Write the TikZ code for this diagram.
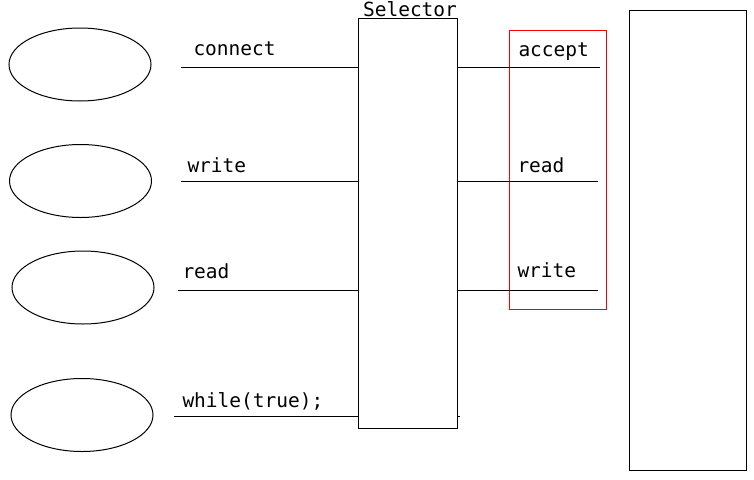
\documentclass[tikz,border=0pt]{standalone}
\usepackage{fontspec}
\setmonofont{DejaVu Sans Mono}
\usetikzlibrary{shapes.geometric}
\begin{document}
\begin{tikzpicture}[x=1pt,y=-1pt,line width=1pt,
  lbl/.style={font=\ttfamily\fontsize{19.5}{23}\selectfont,inner sep=0pt,anchor=base west},
  oval/.style={draw,ellipse,minimum width=142pt,minimum height=73pt,inner sep=0pt},
  boxed/.style={draw,rectangle,inner sep=0pt}]
\useasboundingbox (0,0) rectangle (754,479);
% line end coordinates
\coordinate (l1) at (181,67);
\coordinate (l2) at (181,181);
\coordinate (l3) at (178,290);
\coordinate (l4) at (174,416);
\coordinate (r4) at (460,416);
\coordinate (r1) at (600,67);
\coordinate (r2) at (598,181);
\coordinate (r3) at (598,290);
\draw (l4) -- (r4);
% ellipses
\node[oval] (e1) at (80,64.5) {};
\node[oval] (e2) at (80.5,181) {};
\node[oval] (e3) at (83,287.5) {};
\node[oval] (e4) at (82,415) {};
% selector box
\node[boxed,fill=white,minimum width=99pt,minimum height=410pt] (sel) at (407.5,223) {};
\node[lbl,anchor=base] (selt) at (410,16.3) {Selector};
% right box
\node[boxed,minimum width=117pt,minimum height=460pt] (rb) at (687.5,240) {};
% red box
\node[boxed,draw=red,minimum width=97pt,minimum height=279pt] (red) at (557.5,169.5) {};
\draw (l1) -- (sel.west |- l1);
\draw (l2) -- (sel.west |- l2);
\draw (l3) -- (sel.west |- l3);
\draw (sel.east |- r1) -- (r1);
\draw (sel.east |- r2) -- (r2);
\draw (sel.east |- r3) -- (r3);
% labels
\node[lbl] (t1) at (193,55) {connect};
\node[lbl] (t2) at (187,172) {write};
\node[lbl] (t3) at (182,278) {read};
\node[lbl] (t4) at (182,407) {while(true);};
\node[lbl] (u1) at (518,56) {accept};
\node[lbl] (u2) at (517,172) {read};
\node[lbl] (u3) at (517,277) {write};
\end{tikzpicture}
\end{document}
